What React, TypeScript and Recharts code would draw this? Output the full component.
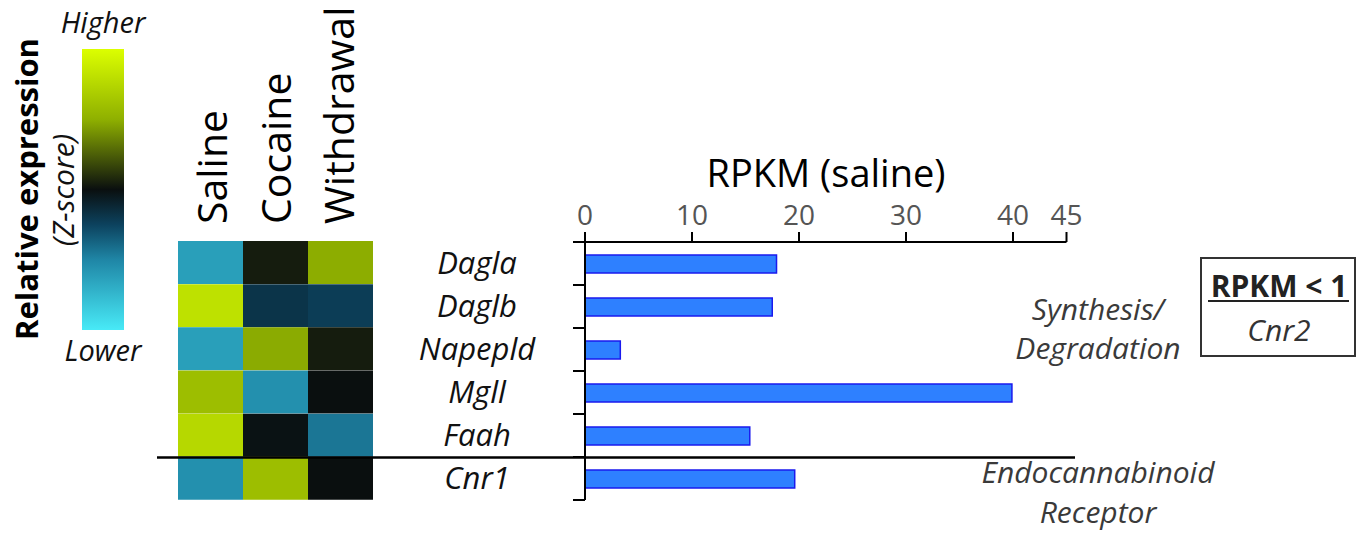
import { BarChart, Bar, XAxis, YAxis, Cell } from "recharts"

const genes = ["Dagla", "Daglb", "Napepld", "Mgll", "Faah", "Cnr1"]
const rpkmSaline = [17.9, 17.5, 3.3, 39.9, 15.4, 19.6]
const rpkmTicks = [0, 10, 20, 30, 40, 45]

const conditions = ["Saline", "Cocaine", "Withdrawal"]
const zSaline = [-0.75, 0.97, -0.75, 0.71, 0.9, -0.66]
const zCocaine = [0.05, -0.22, 0.58, -0.66, -0.02, 0.71]
const zWithdrawal = [0.59, -0.27, 0.05, 0.0, -0.53, 0.0]

const W = 1361
const H = 535
const FONT = "'Open Sans', 'Noto Sans', sans-serif"

// colour scale: lower (cyan) -> black -> higher (yellow)
const Z_MAX = 1.2
const STOPS: [number, number[]][] = [
  [0, [72, 234, 247]],
  [0.25, [31, 134, 166]],
  [0.375, [12, 66, 94]],
  [0.5, [10, 15, 15]],
  [0.75, [143, 176, 0]],
  [1, [220, 255, 0]],
]

function zColor(z: number) {
  const t = Math.max(0, Math.min(1, (z + Z_MAX) / (2 * Z_MAX)))
  for (let i = 1; i < STOPS.length; i++) {
    const [t1, c1] = STOPS[i]
    const [t0, c0] = STOPS[i - 1]
    if (t <= t1) {
      const f = (t - t0) / (t1 - t0)
      const c = c0.map((v, k) => Math.round(v + (c1[k] - v) * f))
      return `rgb(${c[0]},${c[1]},${c[2]})`
    }
  }
  return "rgb(220,255,0)"
}

const barData = genes.map((gene, i) => ({ gene, rpkm: rpkmSaline[i] }))
const zByCondition: Record<string, number[]> = {
  Saline: zSaline,
  Cocaine: zCocaine,
  Withdrawal: zWithdrawal,
}
const heatData = genes.map((gene) => ({ gene, Saline: 1, Cocaine: 1, Withdrawal: 1 }))

const PLOT_TOP = 242
const PLOT_BOTTOM = 500
const BAND = (PLOT_BOTTOM - PLOT_TOP) / genes.length

function GeneTick(props: any) {
  const { x, y, payload, index } = props
  const top = y - BAND / 2
  return (
    <g>
      <line x1={x} x2={x + 12} y1={top} y2={top} stroke="#000" strokeWidth={2} />
      {index === genes.length - 1 && (
        <line x1={x} x2={x + 12} y1={y + BAND / 2} y2={y + BAND / 2} stroke="#000" strokeWidth={2} />
      )}
      <text x={x - 96} y={y + 10} textAnchor="middle" fontFamily={FONT} fontStyle="italic" fontSize={31} fill="#111">
        {payload.value}
      </text>
    </g>
  )
}

function RpkmTick(props: any) {
  const { x, y, payload } = props
  return (
    <text x={x} y={y} textAnchor="middle" fontFamily={FONT} fontSize={28} fill="#555">
      {payload.value}
    </text>
  )
}

export default function App() {
  return (
    <div style={{ position: "absolute", left: 0, top: 0, width: W, height: H, background: "#fff" }}>
      <div style={{ position: "absolute", left: 0, top: 0 }}>
        <BarChart
          width={W}
          height={H}
          data={heatData}
          layout="vertical"
          barCategoryGap={0}
          margin={{ top: 241, right: W - 373, bottom: H - 500, left: 178 }}
        >
          <XAxis type="number" domain={[0, 3]} hide />
          <YAxis type="category" dataKey="gene" hide />
          {conditions.map((cond) => (
            <Bar key={cond} dataKey={cond} stackId="heat" isAnimationActive={false}>
              {genes.map((g, i) => (
                <Cell key={g} fill={zColor(zByCondition[cond][i])} />
              ))}
            </Bar>
          ))}
        </BarChart>
      </div>
      <div style={{ position: "absolute", left: 0, top: 0 }}>
        <BarChart
          width={W}
          height={H}
          data={barData}
          layout="vertical"
          margin={{ top: PLOT_TOP - 60, right: W - 1066.5, bottom: H - PLOT_BOTTOM, left: 585 - 60 }}
        >
          <XAxis
            type="number"
            orientation="top"
            domain={[0, 45]}
            ticks={rpkmTicks}
            height={60}
            tickSize={10}
            tickMargin={7}
            axisLine={{ stroke: "#000", strokeWidth: 2 }}
            tickLine={{ stroke: "#000", strokeWidth: 2 }}
            tick={<RpkmTick />}
          />
          <YAxis
            type="category"
            dataKey="gene"
            width={60}
            tickSize={12}
            tickMargin={0}
            axisLine={{ stroke: "#000", strokeWidth: 2 }}
            tickLine={false}
            tick={<GeneTick />}
            interval={0}
          />
          <Bar dataKey="rpkm" barSize={18} fill="#2e80ff" stroke="#1a1aee" strokeWidth={1.5} isAnimationActive={false} />
        </BarChart>
      </div>
      <svg width={W} height={H} style={{ position: "absolute", left: 0, top: 0, pointerEvents: "none" }}>
        <defs>
          <linearGradient id="zbar" x1="0" y1="0" x2="0" y2="1">
            {[...STOPS].reverse().map(([t, c]) => (
              <stop key={t} offset={`${(1 - t) * 100}%`} stopColor={`rgb(${c[0]},${c[1]},${c[2]})`} />
            ))}
          </linearGradient>
        </defs>
        <rect x={82} y={49} width={42} height={281} fill="url(#zbar)" />
        <text x={103} y={33} textAnchor="middle" fontFamily={FONT} fontStyle="italic" fontSize={29} fill="#111">
          Higher
        </text>
        <text x={103} y={361} textAnchor="middle" fontFamily={FONT} fontStyle="italic" fontSize={29} fill="#111">
          Lower
        </text>
        <text
          transform="translate(38,189) rotate(-90)"
          textAnchor="middle"
          fontFamily={FONT}
          fontWeight="bold"
          fontSize={31}
          fill="#000"
        >
          Relative expression
        </text>
        <text
          transform="translate(74,190) rotate(-90)"
          textAnchor="middle"
          fontFamily={FONT}
          fontStyle="italic"
          fontSize={30}
          fill="#111"
        >
          (Z-score)
        </text>
        {conditions.map((cond, i) => (
          <text
            key={cond}
            transform={`translate(${227 + i * 63.5},224) rotate(-90)`}
            textAnchor="start"
            fontFamily={FONT}
            fontSize={41}
            fill="#000"
          >
            {cond}
          </text>
        ))}
        <text x={826} y={187} textAnchor="middle" fontFamily={FONT} fontSize={38} fill="#000">
          RPKM (saline)
        </text>
        <line x1={157} x2={1075} y1={457.5} y2={457.5} stroke="#000" strokeWidth={2.5} />
        <g fontFamily={FONT} fontStyle="italic" fontSize={30} fill="#3a3a3a" textAnchor="middle">
          <text x={1098} y={320}>Synthesis/</text>
          <text x={1098} y={359}>Degradation</text>
          <text x={1098} y={483}>Endocannabinoid</text>
          <text x={1098} y={523}>Receptor</text>
        </g>
        <rect x={1201} y={258} width={154} height={98} fill="none" stroke="#333" strokeWidth={2} />
        <text x={1279} y={297} textAnchor="middle" fontFamily={FONT} fontWeight="bold" fontSize={30} fill="#222">
          RPKM &lt; 1
        </text>
        <line x1={1208} x2={1349} y1={301} y2={301} stroke="#222" strokeWidth={2} />
        <text x={1279} y={341} textAnchor="middle" fontFamily={FONT} fontStyle="italic" fontSize={30} fill="#333">
          Cnr2
        </text>
      </svg>
    </div>
  )
}
